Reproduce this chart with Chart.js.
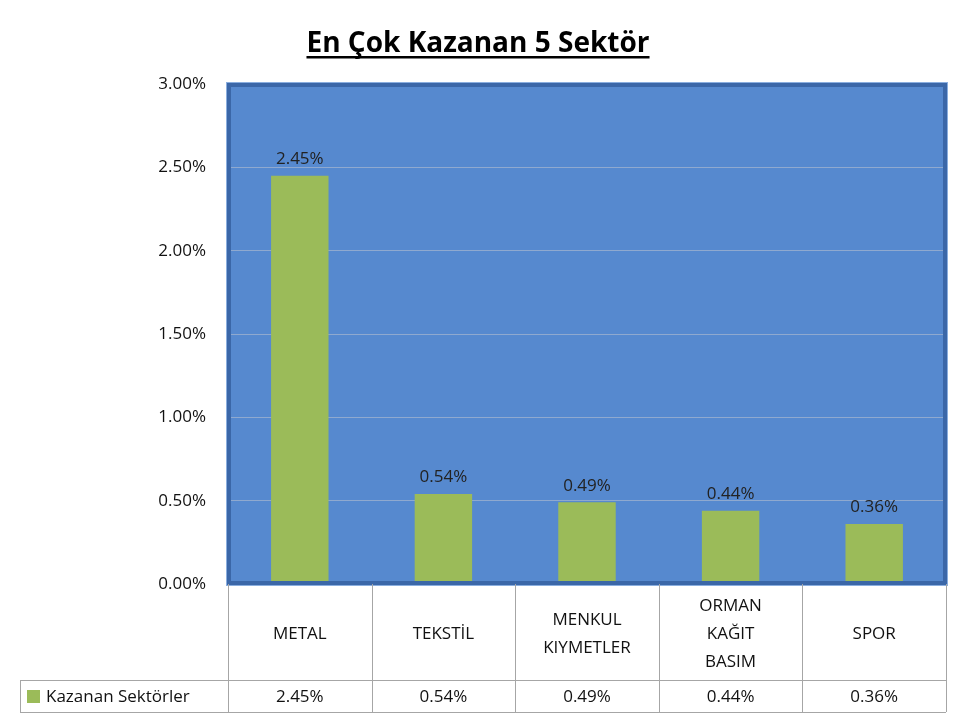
<!DOCTYPE html>
<html><head><meta charset="utf-8">
<script src="https://cdn.jsdelivr.net/npm/chart.js@4"></script>
<style>body{margin:0;background:#fff}#w{width:960px;height:720px}</style>
</head><body><div id="w"><canvas id="c"></canvas></div>
<script>
const title = "En Çok Kazanan 5 Sektör";
const categories = [["METAL"],["TEKSTİL"],["MENKUL","KIYMETLER"],["ORMAN","KAĞIT","BASIM"],["SPOR"]];
const seriesName = "Kazanan Sektörler";
const values = [2.45, 0.54, 0.49, 0.44, 0.36];
const FONT = "'Open Sans', 'Liberation Sans', sans-serif";
const GREEN = "#9BBB59";
const fmt = v => v.toFixed(2) + "%";

const deco = {
  id: "deco",
  beforeDraw(ch) {
    const {ctx, chartArea: a} = ch;
    ctx.save();
    ctx.fillStyle = "#5689CF";
    ctx.fillRect(a.left, a.top, a.right - a.left, a.bottom - a.top);
    ctx.restore();
  },
  afterDatasetsDraw(ch) {
    const {ctx, chartArea: a} = ch;
    const x = ch.scales.x;
    ctx.save();
    // frame
    ctx.strokeStyle = "#3B67A8"; ctx.lineWidth = 4;
    ctx.strokeRect(a.left + 1, a.top + 1, a.right - a.left - 2, a.bottom - a.top - 2);
    ctx.strokeStyle = "#8AAEDF"; ctx.lineWidth = 1;
    ctx.strokeRect(a.left - 1.5, a.top - 1.5, a.right - a.left + 3, a.bottom - a.top + 3);
    // labels
    ctx.fillStyle = "#222"; ctx.font = "17px " + FONT; ctx.textAlign = "center"; ctx.textBaseline = "bottom";
    ch.getDatasetMeta(0).data.forEach((b, i) => ctx.fillText(fmt(values[i]), b.x, b.y - 8));
    // title
    ctx.font = "bold 28px " + FONT; ctx.textBaseline = "alphabetic"; ctx.fillStyle = "#000";
    ctx.fillText(title, 478, 52);
    const tw = ctx.measureText(title).width;
    ctx.fillRect(478 - tw / 2, 56, tw, 2.5);
    // table
    const n = values.length, w = (a.right - a.left) / n;
    const top = a.bottom, mid = 680, bot = 712, left0 = 20;
    ctx.strokeStyle = "#A6A6A6"; ctx.lineWidth = 1;
    ctx.beginPath();
    for (let i = 0; i <= n; i++) {
      const xx = Math.round(a.left + i * w) + 0.5;
      ctx.moveTo(xx, top); ctx.lineTo(xx, bot);
    }
    ctx.moveTo(left0 + .5, mid); ctx.lineTo(left0 + .5, bot);
    ctx.moveTo(left0, mid + .5); ctx.lineTo(a.right, mid + .5);
    ctx.moveTo(left0, bot + .5); ctx.lineTo(a.right, bot + .5);
    ctx.stroke();
    ctx.fillStyle = "#111"; ctx.font = "17px " + FONT; ctx.textBaseline = "middle";
    categories.forEach((lines, i) => {
      const cx = x.getPixelForValue(i), cy = (top + mid) / 2 + 2, lh = 28;
      lines.forEach((l, j) => ctx.fillText(l, cx, cy + (j - (lines.length - 1) / 2) * lh));
      ctx.fillText(fmt(values[i]), cx, (mid + bot) / 2 + 1);
    });
    ctx.fillStyle = GREEN; ctx.fillRect(27, 690, 13, 13);
    ctx.fillStyle = "#111"; ctx.textAlign = "left";
    ctx.fillText(seriesName, 46, (mid + bot) / 2 + 1);
    ctx.restore();
  }
};

new Chart(document.getElementById("c"), {
  type: "bar",
  data: { labels: categories.map(c => c.join(" ")),
    datasets: [{ label: seriesName, data: values, backgroundColor: GREEN, categoryPercentage: 1, barPercentage: 0.4 }] },
  options: {
    responsive: true, maintainAspectRatio: false, animation: false,
    layout: { padding: { top: 84, right: 14, bottom: 136, left: 0 } },
    plugins: { legend: { display: false }, tooltip: { enabled: false } },
    scales: {
      x: { display: false },
      y: { min: 0, max: 3, border: { display: false },
        ticks: { stepSize: 0.5, callback: v => fmt(v), color: "#111", font: { size: 17, family: FONT }, padding: 22 },
        grid: { color: "#8FA9CF", drawTicks: false },
        afterFit(s) { s.width = 228; } }
    }
  },
  plugins: [deco]
});
</script></body></html>
